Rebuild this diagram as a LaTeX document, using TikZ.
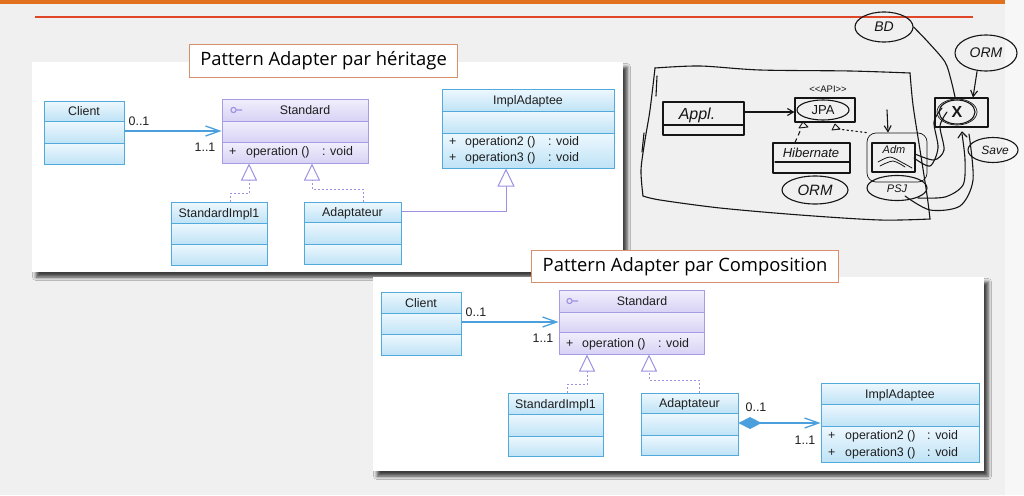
\documentclass[tikz,border=0pt]{standalone}
\usepackage{fontspec}
\setmainfont{Liberation Sans}
\newfontfamily\titlefont{Open Sans}
\newfontfamily\handfont{Liberation Sans}
\usetikzlibrary{fit,shadows.blur,arrows.meta,calc,shapes.geometric}
\definecolor{slidebg}{HTML}{F0F0F0}
\definecolor{sidebg}{HTML}{F7F7F7}
\definecolor{orangebar}{HTML}{E2711D}
\definecolor{redline}{HTML}{E0462A}
\definecolor{titleborder}{HTML}{D8906A}
\definecolor{clsline}{HTML}{52A9DC}
\definecolor{clstop}{HTML}{EEF8FE}
\definecolor{clsbot}{HTML}{BFE3F6}
\definecolor{itfline}{HTML}{A59CE6}
\definecolor{itftop}{HTML}{F1EFFC}
\definecolor{itfbot}{HTML}{D8D2F5}
\definecolor{assoccol}{HTML}{4A9FDC}
\definecolor{realizcol}{HTML}{9C92E2}
\definecolor{umltext}{HTML}{1E1E1E}
\definecolor{ink}{HTML}{151515}
\newcommand\umlcls[8]{%
  \shade[top color=#8top,bottom color=#8bot] (#2,#3) rectangle (#4,#6);
  \shade[top color=#8top,bottom color=#8bot] (#2,#6) rectangle (#4,#7);
  \shade[top color=#8top,bottom color=#8bot] (#2,#7) rectangle (#4,#5);
  \draw[#8line,line width=1pt] (#2,#6) -- (#4,#6) (#2,#7) -- (#4,#7);
  \node[fit={(#2,#3) (#4,#5)},inner sep=0pt,draw=#8line,line width=1pt] (#1) {};
}
\begin{document}
\begin{tikzpicture}[x=1pt,y=-1pt,
  panel/.style={fill=white,inner sep=0pt,blur shadow={shadow xshift=4pt,shadow yshift=-5pt,shadow blur radius=3.5pt,shadow opacity=75}},
  titlebox/.style={draw=titleborder,line width=1.2pt,fill=white,anchor=north west,inner sep=0pt,font=\titlefont\fontsize{18.4}{20}\selectfont,text=black},
  utxt/.style={font=\fontsize{12.4}{14}\selectfont,text=umltext,inner sep=0pt,anchor=base},
  uleft/.style={utxt,anchor=base west},
  assoc/.style={draw=assoccol,line width=1.3pt,-{Straight Barb[length=14pt,width=10pt]}},
  comp/.style={draw=assoccol,line width=1.3pt,{Diamond[length=23pt,width=12pt]}-{Straight Barb[length=14pt,width=10pt]}},
  realize/.style={draw=realizcol,line width=1pt,dash pattern=on 2pt off 2pt,-{Triangle[open,length=17pt,width=16pt]}},
  gen/.style={draw=realizcol,line width=1pt,-{Triangle[open,length=18pt,width=17pt]}},
  hand/.style={draw=ink,line width=1.1pt,line cap=round,line join=round},
  handarrow/.style={hand,-{Straight Barb[length=6pt,width=7pt]}},
  htxt/.style={font=\handfont\itshape\fontsize{13}{14}\selectfont,text=ink,inner sep=0pt}
]
\useasboundingbox (0,0) rectangle (1024,495);
\fill[slidebg] (0,0) rectangle (1005,495);
\fill[sidebg] (1005,0) rectangle (1024,495);
\fill[orangebar] (0,0) rectangle (1005,4.5);
\draw[redline,line width=2pt] (35,17) -- (973,17);

% ---------------- panel 1 : heritage
\node[panel,fit={(32,62) (623,272)}] (p1) {};
\node[titlebox,minimum width=268pt,minimum height=33pt] (t1) at (189,44) {Pattern Adapter par héritage};

\umlcls{c1}{44}{101}{124}{164}{121}{143}{cls}
\node[utxt] (c1-t) at (84,115.5) {Client};
\umlcls{s1}{222}{99}{368}{163}{121}{142}{itf}
\node[utxt] (s1-t) at (305,114.5) {Standard};
\draw[realizcol,line width=1.1pt] (233.5,110) circle (2.6pt) (236.1,110) -- (242,110);
\node[uleft] (s1-p) at (229,155.5) {+};
\node[uleft] (s1-o) at (246,155.5) {operation ()};
\node[uleft] (s1-v) at (322,155.5) {: void};
\umlcls{i1}{442}{89}{614}{168}{111}{133}{cls}
\node[utxt] (i1-t) at (528,104.5) {ImplAdaptee};
\node[uleft] (i1-p2) at (449,145.5) {+};
\node[uleft] (i1-o2) at (465,145.5) {operation2 ()};
\node[uleft] (i1-v2) at (548,145.5) {: void};
\node[uleft] (i1-p3) at (449,161.5) {+};
\node[uleft] (i1-o3) at (465,161.5) {operation3 ()};
\node[uleft] (i1-v3) at (548,161.5) {: void};
\umlcls{si1}{171}{202}{267}{265}{223}{244}{cls}
\node[utxt] (si1-t) at (219,217) {StandardImpl1};
\umlcls{a1}{304}{202}{401}{264}{222}{244}{cls}
\node[utxt] (a1-t) at (352.5,216.5) {Adaptateur};

\draw[assoc] (c1.east |- s1.west) -- (s1.west);
\node[utxt] (c1-m1) at (139,125.5) {0..1};
\node[utxt] (c1-m2) at (205,151.5) {1..1};
\draw[realize] (si1.north -| 230,0) |- (249,193) -- (s1.south -| 249,0);
\draw[realize] (a1.north -| 363,0) |- (312,189) -- (s1.south -| 312,0);
\draw[gen] (a1.east |- 0,211) -| (i1.south -| 506,0);

% ---------------- panel 2 : composition
\node[panel,fit={(373,277) (984,471)}] (p2) {};
\node[titlebox,minimum width=307pt,minimum height=32pt] (t2) at (531,250) {Pattern Adapter par Composition};

\umlcls{c2}{381}{292}{461}{355}{313}{334}{cls}
\node[utxt] (c2-t) at (421,307) {Client};
\umlcls{s2}{559}{290}{704}{354}{312}{332}{itf}
\node[utxt] (s2-t) at (642,305.5) {Standard};
\draw[realizcol,line width=1.1pt] (569.5,301) circle (2.6pt) (572.1,301) -- (578,301);
\node[uleft] (s2-p) at (566,347.4) {+};
\node[uleft] (s2-o) at (582,347.4) {operation ()};
\node[uleft] (s2-v) at (658,347.4) {: void};
\umlcls{si2}{508}{393}{603}{456}{414}{436}{cls}
\node[utxt] (si2-t) at (555.5,408) {StandardImpl1};
\umlcls{a2}{641}{393}{738}{455}{413}{435}{cls}
\node[utxt] (a2-t) at (689.5,407.5) {Adaptateur};
\umlcls{i2}{821}{383}{979}{462}{404}{426}{cls}
\node[utxt] (i2-t) at (900,398) {ImplAdaptee};
\node[uleft] (i2-p2) at (828,439.4) {+};
\node[uleft] (i2-o2) at (845,439.4) {operation2 ()};
\node[uleft] (i2-v2) at (927,439.4) {: void};
\node[uleft] (i2-p3) at (828,456.4) {+};
\node[uleft] (i2-o3) at (845,456.4) {operation3 ()};
\node[uleft] (i2-v3) at (927,456.4) {: void};

\draw[assoc] (c2.east |- s2.west) -- (s2.west);
\node[utxt] (c2-m1) at (476,316.5) {0..1};
\node[utxt] (c2-m2) at (543,342.5) {1..1};
\draw[realize] (si2.north -| 567,0) |- (587,384) -- (s2.south -| 587,0);
\draw[realize] (a2.north -| 699,0) |- (649,380) -- (s2.south -| 649,0);
\draw[comp] (a2.east |- 0,423) -- (i2.west |- 0,423);
\node[utxt] (a2-m1) at (756,411.5) {0..1};
\node[utxt] (a2-m2) at (805,444.5) {1..1};

% ---------------- hand sketch
\draw[hand] plot[smooth] coordinates {(655,68) (700,66) (760,70) (850,71) (910,73)};
\draw[hand] plot[smooth] coordinates {(910,73) (913,105) (920,150) (927,195) (930,219)};
\draw[hand] plot[smooth] coordinates {(930,219) (880,220) (800,215) (720,208) (660,200) (643,196)};
\draw[hand] plot[smooth] coordinates {(643,196) (641,170) (645,140) (650,110) (655,68)};
\draw[hand] (657,76) -- (656,96);
\draw[hand] (644,133) -- (642,152);

\node[hand,draw,fit={(663,102) (744,135)},inner sep=0pt] (appl) {};
\draw[hand] (663,125) -- (744,125);
\node[htxt,font=\handfont\itshape\fontsize{16}{17}\selectfont] (appl-t) at (697,115) {Appl.};

\node[htxt,font=\handfont\fontsize{9.5}{10}\selectfont] (api) at (828,89) {{<}{<}API{>}{>}};
\node[hand,draw,fit={(795,98) (855,122)},inner sep=0pt] (jpa) {};
\node[hand,draw,ellipse,minimum width=52pt,minimum height=20pt,inner sep=0pt] (jpa-e) at (823,110) {};
\node[htxt,font=\handfont\fontsize{13}{14}\selectfont] (jpa-t) at (823,110) {JPA};
\draw[handarrow] (appl.east |- 0,112) -- (jpa.west |- 0,112);
\draw[hand,line width=0.9pt] (799,128) -- (803,122) -- (808,127) -- cycle;
\draw[hand,line width=0.9pt] (832,130) -- (835,124) -- (840,129) -- cycle;

\node[hand,draw,fit={(773,143) (850,173)},inner sep=0pt] (hib) {};
\draw[hand] (775,162) -- (850,162);
\node[htxt,font=\handfont\itshape\fontsize{13}{14}\selectfont] (hib-t) at (811,153) {Hibernate};
\draw[hand,dash pattern=on 4pt off 4pt] (hib.north -| 795,0) -- (801,129);
\node[hand,draw,ellipse,minimum width=66pt,minimum height=28pt,inner sep=0pt] (orm1) at (815,190) {};
\node[htxt,font=\handfont\itshape\fontsize{15}{16}\selectfont] (orm1-t) at (815,190) {ORM};

\node[hand,draw,rounded corners=9pt,fit={(867,133) (927,182)},inner sep=0pt,line width=0.7pt] (adp-o) {};
\node[hand,draw,fit={(872,143) (915,172)},inner sep=0pt] (adp) {};
\node[htxt,font=\handfont\itshape\fontsize{11}{12}\selectfont] (adp-t) at (894,150) {Adm};
\draw[hand,line width=0.8pt] plot[smooth] coordinates {(878,162) (890,157) (903,163) (912,168)};
\draw[hand,line width=0.8pt] plot[smooth] coordinates {(880,166) (893,161) (905,167)};
\draw[hand,dash pattern=on 1.5pt off 3pt] (838,129) -- (adp-o.north west);
\draw[handarrow] (887,110) -- (adp-o.north -| 888,0);
\node[hand,draw,ellipse,minimum width=60pt,minimum height=25pt,inner sep=0pt] (psj) at (897,188) {};
\node[htxt,font=\handfont\itshape\fontsize{11}{12}\selectfont] (psj-t) at (897,189) {PSJ};

\node[hand,draw,ellipse,minimum width=58pt,minimum height=30pt,inner sep=0pt] (bd) at (884,27) {};
\node[htxt,font=\handfont\itshape\fontsize{14}{15}\selectfont] (bd-t) at (884,27) {BD};
\node[hand,draw,ellipse,minimum width=62pt,minimum height=36pt,inner sep=0pt] (orm2) at (986,53) {};
\node[htxt,font=\handfont\itshape\fontsize{14}{15}\selectfont] (orm2-t) at (986,53) {ORM};
\node[hand,draw,fit={(935,98) (988,127)},inner sep=0pt] (xb) {};
\node[hand,draw,ellipse,minimum width=36pt,minimum height=24pt,inner sep=0pt] (xc) at (957,112) {};
\draw[hand,line width=0.7pt] (957,112) ellipse (20pt and 13pt);
\node[htxt,font=\handfont\bfseries\fontsize{16}{17}\selectfont] (xc-t) at (957,112) {X};
\node[hand,draw,ellipse,minimum width=50pt,minimum height=25pt,inner sep=0pt] (save) at (993,150) {};
\node[htxt,font=\handfont\itshape\fontsize{12}{13}\selectfont] (save-t) at (995,150) {Save};

\draw[hand] plot[smooth] coordinates {(bd.east) (928,42) (945,62) (951,80) (955,97)};
\draw[handarrow] (orm2.south -| 977,0) -- (xb.north -| 973,0);
\draw[hand] plot[smooth] coordinates {(915,154) (934,160) (944,150) (940,126) (947,112)};
\draw[hand] plot[smooth] coordinates {(914,158) (930,166) (938,148) (934,122) (942,108)};
\draw[hand] plot[smooth] coordinates {(918,198) (945,197) (963,185) (965,160) (962,134)};
\draw[hand] plot[smooth] coordinates {(905,196) (930,210) (960,206) (973,180) (969,134)};
\draw[hand] (958,138) -- (962,132) -- (967,137);
\end{tikzpicture}
\end{document}
